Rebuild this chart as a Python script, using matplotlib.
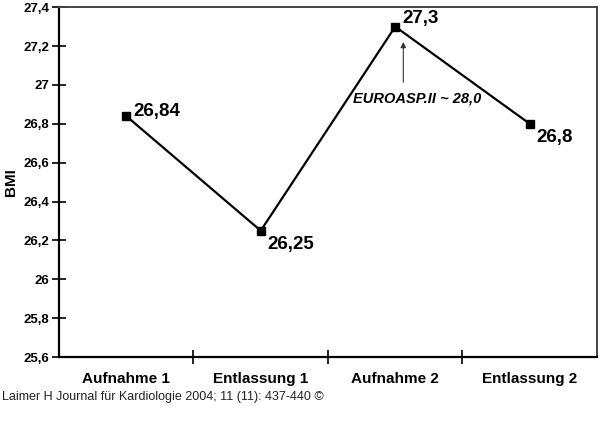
import matplotlib
matplotlib.use("Agg")
import matplotlib.pyplot as plt
from matplotlib.ticker import FuncFormatter

plt.rcParams["font.family"] = ["Liberation Sans", "DejaVu Sans"]

categories = ["Aufnahme 1", "Entlassung 1", "Aufnahme 2", "Entlassung 2"]
bmi = [26.84, 26.25, 27.3, 26.8]
point_labels = ["26,84", "26,25", "27,3", "26,8"]
label_offsets = [(5, 3), (5, -10), (5, 6), (5, -10)]

fig = plt.figure(figsize=(6, 4.48), dpi=100)
ax = fig.add_axes([0.0983, 0.203, 0.8967, 0.781])

xs = list(range(len(categories)))
ax.plot(xs, bmi, color="black", linewidth=1.6, marker="s", markersize=6,
        markerfacecolor="black", markeredgecolor="black")

for x, y, lab, off in zip(xs, bmi, point_labels, label_offsets):
    ax.annotate(lab, (x, y), xytext=off, textcoords="offset points",
                fontsize=13.5, fontweight="bold", ha="left", va="center")

# reference value note
ax.annotate("", xy=(2.06, 27.235), xytext=(2.06, 27.0),
            arrowprops=dict(arrowstyle="-|>", color="#333333", lw=0.8,
                            mutation_scale=8))
ax.text(2.16, 26.93, "EUROASP.II ~ 28,0", fontsize=10.5, fontweight="bold",
        fontstyle="italic", ha="center", va="center")

ax.set_xlim(-0.5, 3.5)
ax.set_ylim(25.6, 27.4)
ax.set_yticks([25.6 + 0.2 * i for i in range(10)])
ax.yaxis.set_major_formatter(FuncFormatter(
    lambda v, p: ("%.1f" % v).rstrip("0").rstrip(".").replace(".", ",")))

ax.set_xticks([0.5, 1.5, 2.5])
ax.set_xticklabels([])
ax.set_xticks(xs, minor=True)
ax.set_xticklabels(categories, minor=True, fontsize=11, fontweight="bold")
ax.tick_params(axis="x", which="minor", length=0, pad=11)
ax.tick_params(axis="x", which="major", direction="inout", length=10, width=1.2)
ax.tick_params(axis="y", direction="inout", length=10, width=1.2,
               labelsize=9.5, pad=2)
for lab in ax.get_yticklabels():
    lab.set_fontweight("bold")

ax.set_ylabel("BMI", fontsize=11, fontweight="bold", labelpad=4)

ax.spines["left"].set_linewidth(1.6)
ax.spines["bottom"].set_linewidth(1.6)
ax.spines["top"].set_color("#444444")
ax.spines["right"].set_color("#444444")
ax.spines["top"].set_linewidth(1.4)
ax.spines["right"].set_linewidth(1.4)

fig.text(0.003, 1 - 397 / 448, "Laimer H Journal für Kardiologie 2004; 11 (11): 437-440 ©",
         fontsize=9, color="#222222", ha="left", va="center")

fig.savefig("out.png", dpi=100)
